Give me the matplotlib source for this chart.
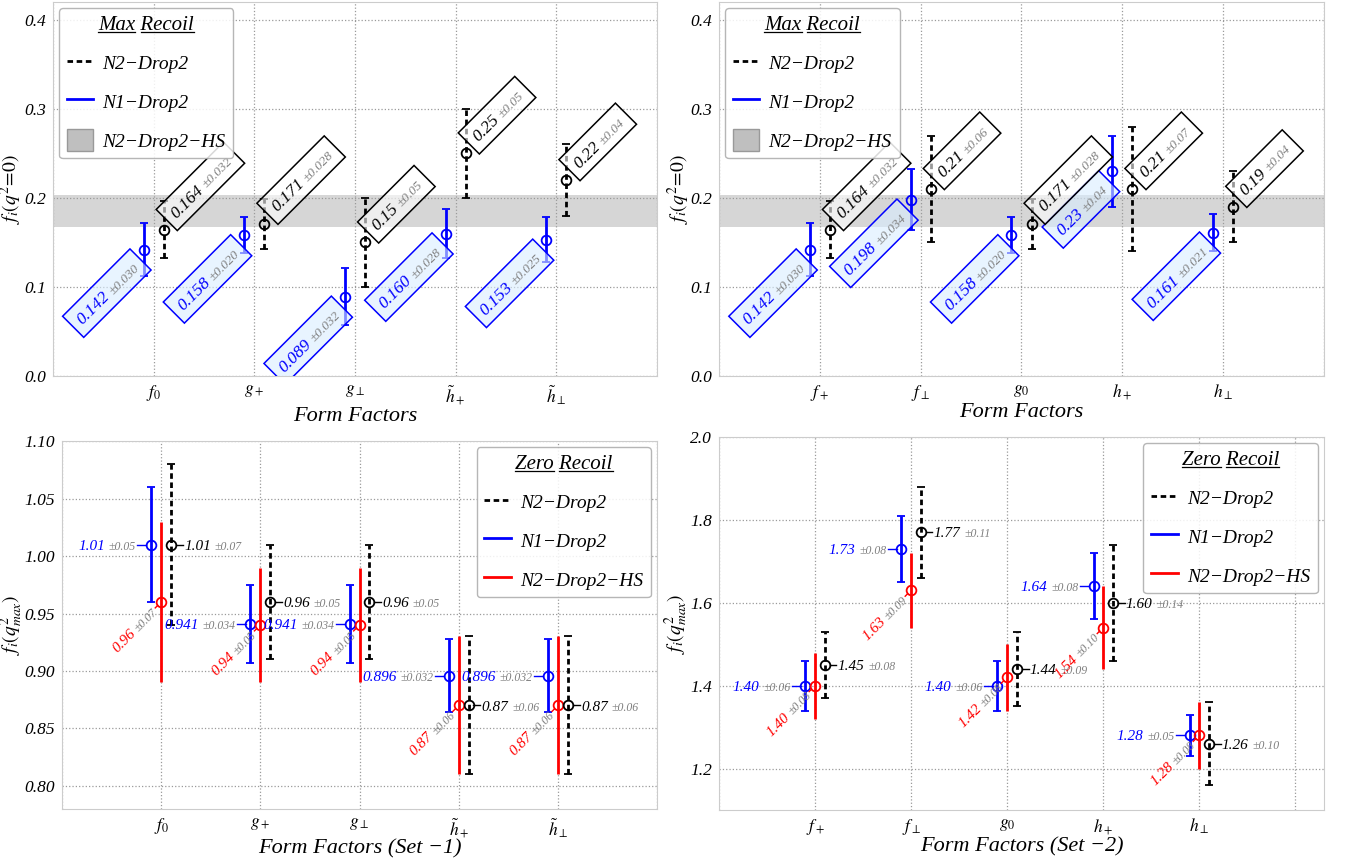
import numpy as np
import matplotlib
matplotlib.use('Agg')
import matplotlib.pyplot as plt
from matplotlib.font_manager import FontProperties
from matplotlib.lines import Line2D
from matplotlib.patches import Patch, Rectangle
from matplotlib.transforms import Affine2D, ScaledTranslation

plt.rcParams['font.family'] = 'serif'
plt.rcParams['font.serif'] = ['Liberation Serif', 'DejaVu Serif']
plt.rcParams['mathtext.fontset'] = 'stix'

DPI = 100
PT = DPI / 72.0

## data
set1_names = [r'$f_0$', r'$g_+$', r'$g_\perp$', r'$\tilde{h}_+$', r'$\tilde{h}_\perp$']
set2_names = [r'$f_+$', r'$f_\perp$', r'$g_0$', r'$h_+$', r'$h_\perp$']

# max recoil, q^2 = 0
max1_n2 = ['0.164', '0.171', '0.15', '0.25', '0.22']
max1_n2_err = ['0.032', '0.028', '0.05', '0.05', '0.04']
max1_n1 = ['0.142', '0.158', '0.089', '0.160', '0.153']
max1_n1_err = ['0.030', '0.020', '0.032', '0.028', '0.025']

max2_n2 = ['0.164', '0.21', '0.171', '0.21', '0.19']
max2_n2_err = ['0.032', '0.06', '0.028', '0.07', '0.04']
max2_n1 = ['0.142', '0.198', '0.158', '0.23', '0.161']
max2_n1_err = ['0.030', '0.034', '0.020', '0.04', '0.021']

hs_max = 0.185
hs_max_err = 0.018

# zero recoil, q^2 = q^2_max
zero1_n2 = ['1.01', '0.96', '0.96', '0.87', '0.87']
zero1_n2_err = ['0.07', '0.05', '0.05', '0.06', '0.06']
zero1_n1 = ['1.01', '0.941', '0.941', '0.896', '0.896']
zero1_n1_err = ['0.05', '0.034', '0.034', '0.032', '0.032']
zero1_hs = ['0.96', '0.94', '0.94', '0.87', '0.87']
zero1_hs_err = ['0.07', '0.05', '0.05', '0.06', '0.06']

zero2_n2 = ['1.45', '1.77', '1.44', '1.60', '1.26']
zero2_n2_err = ['0.08', '0.11', '0.09', '0.14', '0.10']
zero2_n1 = ['1.40', '1.73', '1.40', '1.64', '1.28']
zero2_n1_err = ['0.06', '0.08', '0.06', '0.08', '0.05']
zero2_hs = ['1.40', '1.63', '1.42', '1.54', '1.28']
zero2_hs_err = ['0.08', '0.09', '0.08', '0.10', '0.08']

BLUE = '#0000ff'
RED = '#ff0000'
GRAY_TXT = '#808080'
MS = 7

fig = plt.figure(figsize=(13.47, 8.61), dpi=DPI)
renderer = fig.canvas.get_renderer()


def measure(s, size):
    fp = FontProperties(family='serif', style='italic', size=size)
    return renderer.get_text_width_height_descent(s, fp, ismath=False)[0] / PT


def value_label(ax, x, y, val, err, color, angle, u_near, v0=0.0, size=11, esize=8.5,
                box=None, link=False, z=4):
    # label runs along a rotated baseline; u_near >= 0 -> starts there, < 0 -> ends there
    wv = measure(val, size)
    we = measure('\u00b1' + err, esize)
    gap = 2.5
    W = wv + gap + we
    u_start = u_near if u_near >= 0 else u_near - W
    c, s = np.cos(np.radians(angle)), np.sin(np.radians(angle))
    vb = v0 - 0.33 * size

    def off(u, v):
        return (u * c - v * s, u * s + v * c)

    kw = dict(textcoords='offset points', rotation=angle, rotation_mode='anchor',
              ha='left', va='baseline', style='italic', zorder=z + 0.1)
    ax.annotate(val, (x, y), xytext=off(u_start, vb), fontsize=size, color=color, **kw)
    ax.annotate('\u00b1' + err, (x, y), xytext=off(u_start + wv + gap, vb),
                fontsize=esize, color=GRAY_TXT, **kw)
    tr = Affine2D().scale(PT).rotate_deg(angle) + ScaledTranslation(x, y, ax.transData)
    if box is not None:
        fc, ec = box
        pad, hb = 5.5, 21.5
        ax.add_patch(Rectangle((u_start - pad, v0 - hb / 2), W + 2 * pad, hb, transform=tr,
                               facecolor=fc, edgecolor=ec, lw=1.1, zorder=z))
    if link:
        r = MS / 2.0
        if u_near < 0:
            uu = [u_near + 1.0, -r]
        else:
            uu = [r, u_near - 1.0]
        ax.add_line(Line2D(uu, [v0, v0], transform=tr, color=color, lw=1.0, zorder=z))


def err_series(ax, xs, ys, es, color, dashed=False, caps=True):
    eb = ax.errorbar(xs, ys, yerr=es, fmt='o', ms=MS, mfc='none', mec=color, mew=1.3,
                     ecolor=color, elinewidth=2, capsize=3.2 if caps else 0, capthick=2,
                     zorder=2)
    if dashed:
        eb.lines[2][0].set_linestyle((0, (2, 1.3)))
    return eb


def style_axes(ax, names, xlim, ylim, yticks):
    ax.set_xlim(*xlim)
    ax.set_ylim(*ylim)
    ax.set_xticks(range(7))
    ax.set_xticklabels([''] + names + [''], fontsize=18)
    ax.set_yticks(yticks)
    ax.tick_params(length=0, labelsize=12.5, pad=5)
    for lbl in ax.get_yticklabels():
        lbl.set_fontstyle('italic')
    ax.grid(True, ls=':', color='#9a9a9a', lw=0.9)
    ax.set_axisbelow(True)
    for sp in ax.spines.values():
        sp.set_color('#cccccc')


def underline_title(leg):
    t = leg.get_title()
    bb = t.get_window_extent(renderer)
    fp = t.get_fontproperties()
    words = t.get_text().split()
    w1 = renderer.get_text_width_height_descent(words[0], fp, ismath=False)[0]
    w2 = renderer.get_text_width_height_descent(words[1], fp, ismath=False)[0]
    inv = fig.transFigure.inverted()
    y0 = bb.y0 + 2.5
    for xa, xb in [(bb.x0, bb.x0 + w1), (bb.x1 - w2, bb.x1)]:
        (fx0, fy), (fx1, _) = inv.transform([(xa, y0), (xb, y0)])
        fig.add_artist(Line2D([fx0, fx1], [fy, fy], transform=fig.transFigure,
                              color='k', lw=0.9, zorder=10))


xs = np.arange(1, 6)
leg_kw = dict(prop=dict(size=14, style='italic'),
              title_fontproperties=dict(size=15, style='italic'),
              handlelength=1.35, handleheight=1.3, labelspacing=0.9, handletextpad=0.5,
              borderaxespad=0.3, framealpha=0.85, edgecolor='#aaaaaa', fancybox=True)
dash_handle = Line2D([], [], color='k', ls=(0, (2, 1.3)), lw=2)
blue_handle = Line2D([], [], color=BLUE, lw=2)
red_handle = Line2D([], [], color=RED, lw=2)
hs_handle = Patch(facecolor='#bfbfbf', edgecolor='#999999')
lab_n2, lab_n1, lab_hs = 'N2\u2212Drop2', 'N1\u2212Drop2', 'N2\u2212Drop2\u2212HS'

legends = []

# ---- top row: max recoil ----
top_panels = [
    ([0.0393, 0.5633, 0.4485, 0.4344], -0.048, set1_names, max1_n1, max1_n1_err,
     max1_n2, max1_n2_err),
    ([0.5338, 0.5633, 0.4491, 0.4344], -0.045, set2_names, max2_n1, max2_n1_err,
     max2_n2, max2_n2_err),
]
for rect, ylab_x, names, n1, n1e, n2, n2e in top_panels:
    ax = fig.add_axes(rect)
    style_axes(ax, names, (0, 6), (0, 0.42), np.arange(0, 0.41, 0.1))
    ax.axhspan(hs_max - hs_max_err, hs_max + hs_max_err, color='#d6d6d6', zorder=0.5, lw=0)
    n1v, n1ev = np.array(n1, float), np.array(n1e, float)
    n2v, n2ev = np.array(n2, float), np.array(n2e, float)
    err_series(ax, xs - 0.1, n1v, n1ev, BLUE)
    err_series(ax, xs + 0.1, n2v, n2ev, 'k', dashed=True)
    for i in range(5):
        value_label(ax, xs[i] - 0.1, n1v[i], n1[i], n1e[i], BLUE, 45, -12.1, v0=-3.5,
                    size=12.5, esize=9.5, box=((0.85, 0.93, 1.0, 0.6), BLUE), z=3)
        value_label(ax, xs[i] + 0.1, n2v[i], n2[i], n2e[i], 'k', 45, 12.1, v0=3.5,
                    size=12.5, esize=9.5, box=((1.0, 1.0, 1.0, 0.6), 'k'), z=3.5)
    ax.set_xlabel('Form Factors', fontsize=16, style='italic', labelpad=0)
    ax.set_ylabel(r'$f_i(q^2\!=\!0)$', fontsize=14)
    ax.yaxis.set_label_coords(ylab_x, 0.5)
    leg = ax.legend([dash_handle, blue_handle, hs_handle], [lab_n2, lab_n1, lab_hs],
                    title='Max Recoil', loc='upper left', **leg_kw)
    legends.append(leg)

# ---- bottom row: zero recoil ----
bottom_panels = [
    ([0.0460, 0.0604, 0.4418, 0.4274], -0.062, set1_names, (0, 6), (0.78, 1.10),
     np.arange(0.80, 1.101, 0.05), zero1_n1, zero1_n1_err, zero1_hs, zero1_hs_err,
     zero1_n2, zero1_n2_err, 'Form Factors (Set \u22121)'),
    ([0.5338, 0.0592, 0.4491, 0.4333], -0.048, set2_names, (0, 6.3), (1.10, 2.0),
     np.arange(1.2, 2.01, 0.2), zero2_n1, zero2_n1_err, zero2_hs, zero2_hs_err,
     zero2_n2, zero2_n2_err, 'Form Factors (Set \u22122)'),
]
for (rect, ylab_x, names, xlim, ylim, yt, n1, n1e, hs, hse, n2, n2e, xlab) in bottom_panels:
    ax = fig.add_axes(rect)
    style_axes(ax, names, xlim, ylim, yt)
    n1v, n1ev = np.array(n1, float), np.array(n1e, float)
    hsv, hsev = np.array(hs, float), np.array(hse, float)
    n2v, n2ev = np.array(n2, float), np.array(n2e, float)
    err_series(ax, xs - 0.1, n1v, n1ev, BLUE)
    err_series(ax, xs, hsv, hsev, RED, caps=False)
    err_series(ax, xs + 0.1, n2v, n2ev, 'k', dashed=True)
    for i in range(5):
        value_label(ax, xs[i] - 0.1, n1v[i], n1[i], n1e[i], BLUE, 0, -11.0, link=True)
        value_label(ax, xs[i], hsv[i], hs[i], hse[i], RED, 45, -7.0, link=True)
        value_label(ax, xs[i] + 0.1, n2v[i], n2[i], n2e[i], 'k', 0, 9.5, link=True)
    ax.set_xlabel(xlab, fontsize=16, style='italic', labelpad=0)
    ax.set_ylabel(r'$f_i(q^2_{max})$', fontsize=14)
    ax.yaxis.set_label_coords(ylab_x, 0.5)
    leg = ax.legend([dash_handle, blue_handle, red_handle], [lab_n2, lab_n1, lab_hs],
                    title='Zero Recoil', loc='upper right', **leg_kw)
    legends.append(leg)

fig.canvas.draw()
for leg in legends:
    underline_title(leg)

fig.savefig('out.png', dpi=DPI)
